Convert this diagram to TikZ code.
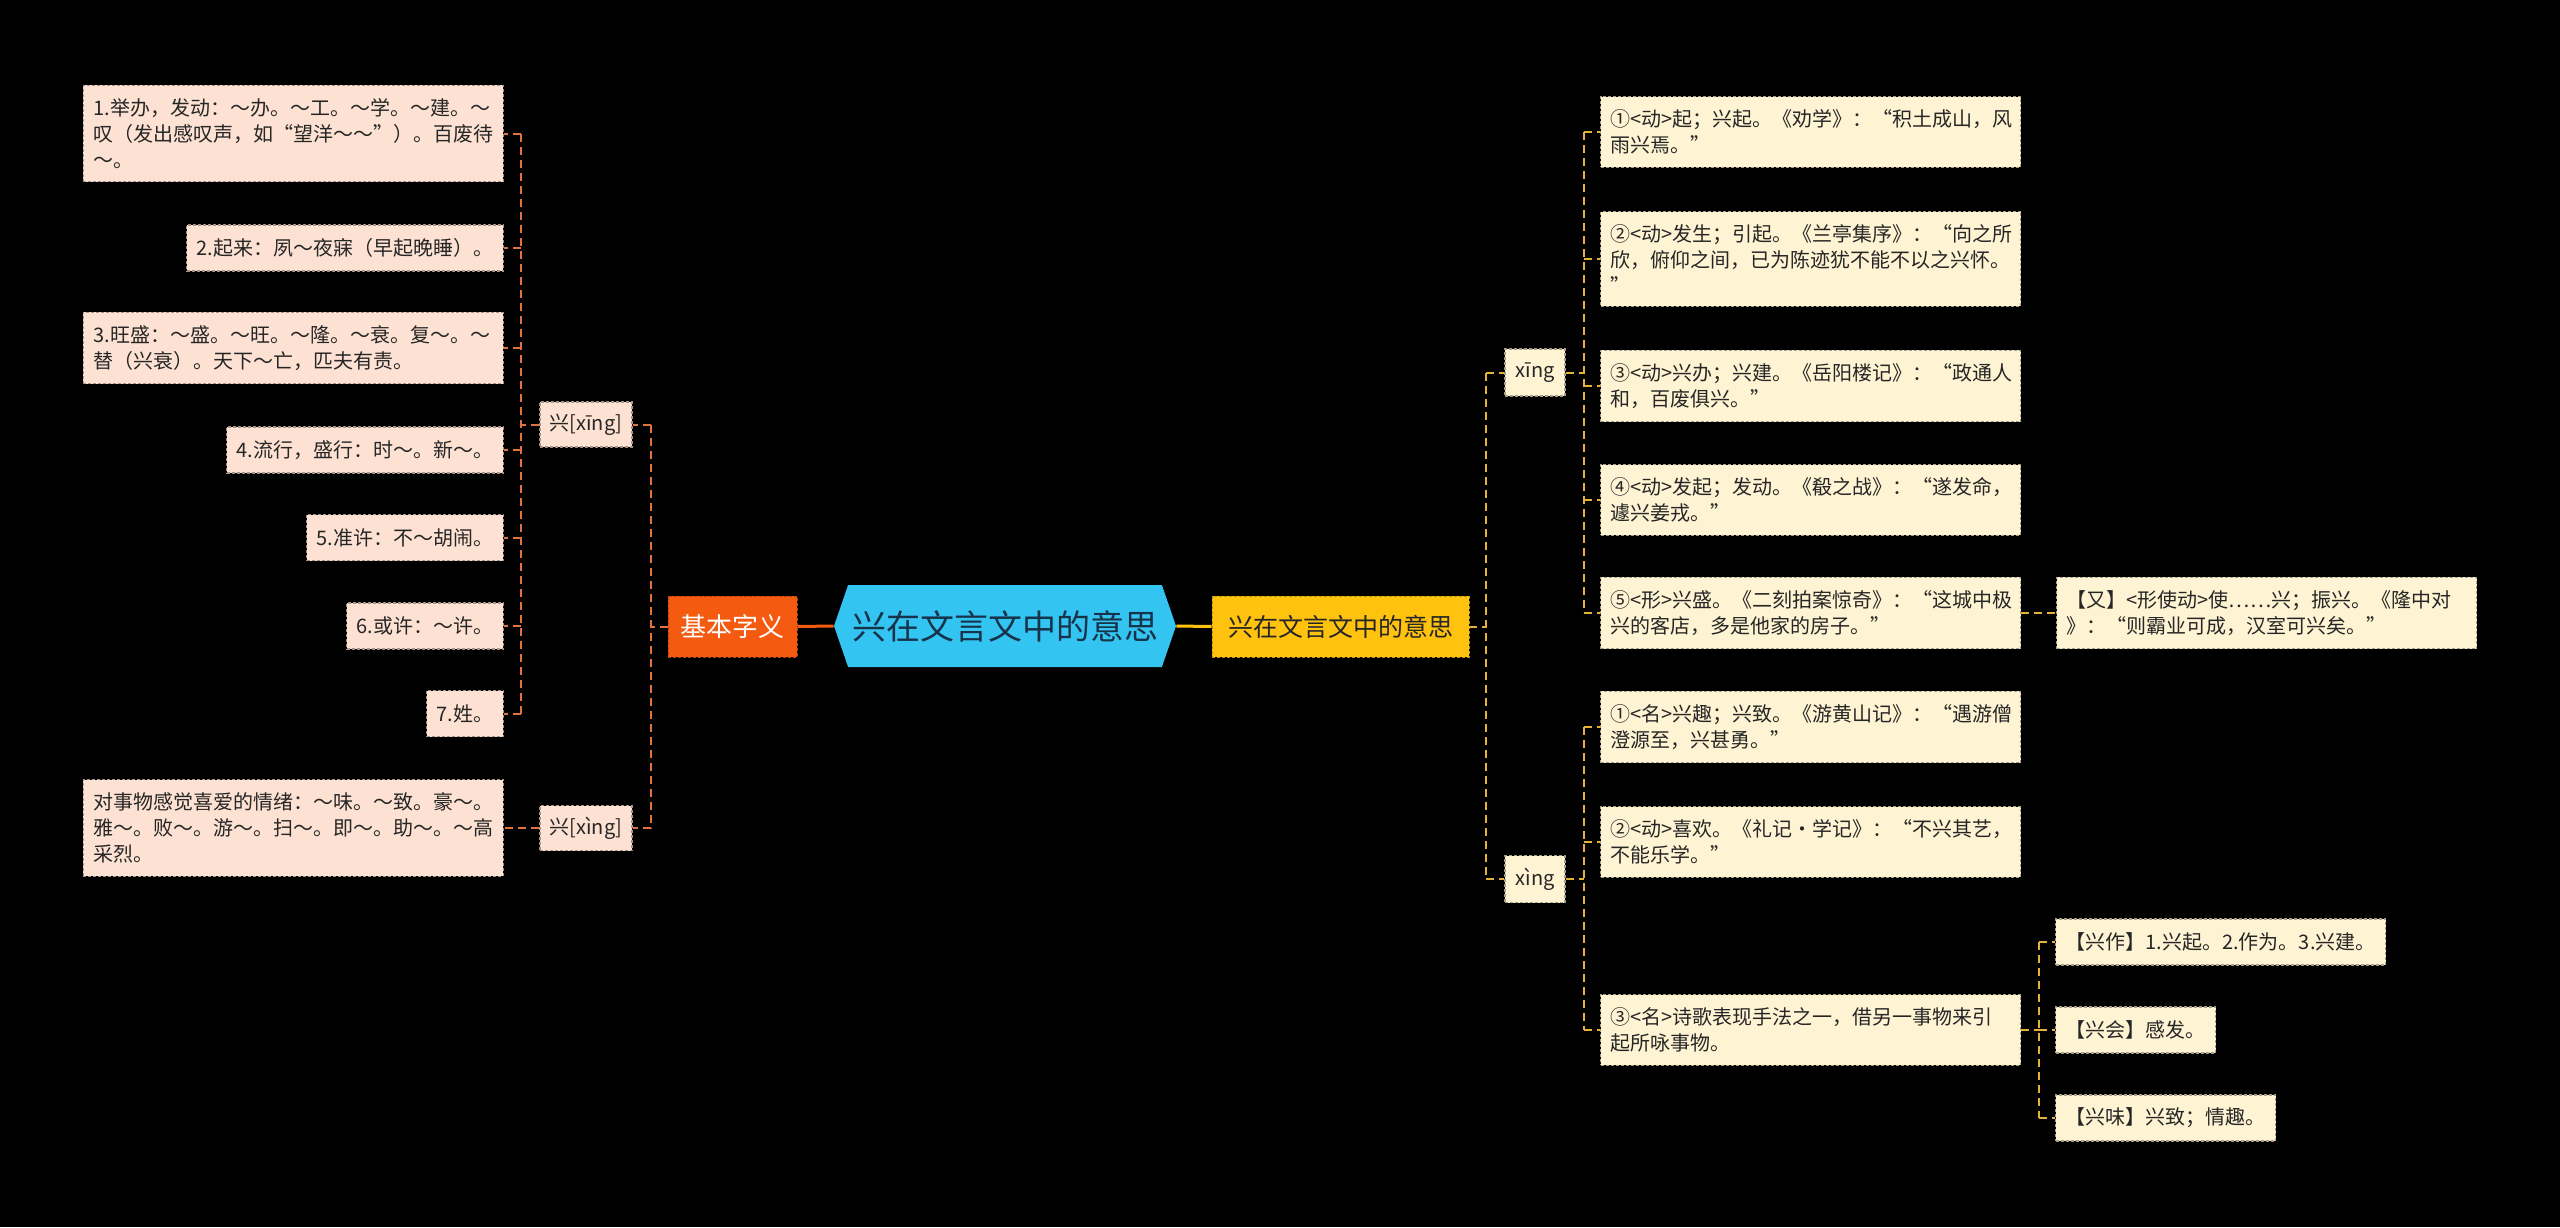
\documentclass[tikz,border=0pt]{standalone}
\usepackage{fontspec}
\newfontfamily\cjk{Noto Sans CJK SC}
\usetikzlibrary{shapes.symbols}
\definecolor{rootblue}{HTML}{33C4F2}
\definecolor{roottext}{HTML}{17334A}
\definecolor{baseorange}{HTML}{F45A10}
\definecolor{meanyellow}{HTML}{FFC20F}
\definecolor{peach}{HTML}{FDE2D3}
\definecolor{cream}{HTML}{FEF3D2}
\definecolor{lline}{HTML}{E0733F}
\definecolor{rline}{HTML}{E3B236}

\begin{document}
\begin{tikzpicture}[x=0.5pt,y=-0.5pt,
  box/.style={font=\cjk\fontsize{10pt}{13pt}\selectfont, text=black!85, align=left,
    inner xsep=5pt, inner ysep=6.5pt, minimum height=23pt,
    dash pattern=on 1.5pt off 1pt, line width=0.6pt},
  lbox/.style={box, fill=peach, draw=peach!65!black, anchor=east},
  rbox/.style={box, fill=cream, draw=cream!65!black, anchor=west},
  wide/.style={text width=200pt},
  tag/.style={anchor=center, inner sep=0pt},
  lc/.style={draw=lline, line width=1pt, dash pattern=on 4pt off 2.5pt},
  rc/.style={draw=rline, line width=1pt, dash pattern=on 4pt off 2.5pt}]
\fill[black] (0,0) rectangle (2560,1227);
\useasboundingbox (0,0) rectangle (2560,1227);

% centre and the two main branches
\node[signal, signal to=east and west, signal pointer angle=142, fill=rootblue,
  text=roottext, font=\cjk\fontsize{17pt}{20pt}\selectfont,
  minimum width=171pt, minimum height=41pt, inner sep=0pt] (root) at (1005,626) {兴在文言文中的意思};
\node[fill=baseorange, draw=baseorange!75!black, dash pattern=on 1.5pt off 1pt, text=white,
  font=\cjk\fontsize{13pt}{15pt}\selectfont, minimum width=64.5pt, minimum height=30.5pt,
  inner sep=0pt] (base) at (732.5,626.5) {基本字义};
\node[fill=meanyellow, draw=meanyellow!75!black, dash pattern=on 1.5pt off 1pt, text=black!85,
  font=\cjk\fontsize{12.5pt}{15pt}\selectfont, minimum width=128.5pt, minimum height=30.5pt,
  inner sep=0pt] (mean) at (1340.5,626.5) {兴在文言文中的意思};
\draw[baseorange, line width=1.5pt] (base.east) -- (root.west);
\draw[meanyellow, line width=1.5pt] (root.east) -- (mean.west);

% left side
\node[lbox, tag, minimum width=46pt, minimum height=22.5pt] (xingA) at (586,424.5) {兴[xīng]};
\node[lbox, tag, minimum width=46pt, minimum height=22.5pt] (xingB) at (586,828) {兴[xìng]};
\node[lbox, wide] (L1) at (504,133.5) {1.举办，发动：～办。～工。～学。～建。～\\叹（发出感叹声，如“望洋～～”）。百废待\\～。};
\node[lbox] (L2) at (504,248) {2.起来：夙～夜寐（早起晚睡）。};
\node[lbox, wide] (L3) at (504,348) {3.旺盛：～盛。～旺。～隆。～衰。复～。～\\替（兴衰）。天下～亡，匹夫有责。};
\node[lbox] (L4) at (504,450) {4.流行，盛行：时～。新～。};
\node[lbox] (L5) at (504,537.5) {5.准许：不～胡闹。};
\node[lbox] (L6) at (504,626) {6.或许：～许。};
\node[lbox] (L7) at (504,713.5) {7.姓。};
\node[lbox, wide] (L8) at (504,828) {对事物感觉喜爱的情绪：～味。～致。豪～。\\雅～。败～。游～。扫～。即～。助～。～高\\采烈。};

\draw[lc] (base.west) -- ++(-17,0) coordinate (kb);
\draw[lc] (kb |- xingA.east) -- (kb |- xingB.east);
\draw[lc] (kb |- xingA.east) -- (xingA.east); \draw[lc] (kb |- xingB.east) -- (xingB.east);
\draw[lc] (xingA.west) -- ++(-18,0) coordinate (ka);
\draw[lc] (ka |- L1.east) -- (ka |- L7.east);
\draw[lc] (ka |- L1.east) -- (L1.east); \draw[lc] (ka |- L2.east) -- (L2.east);
\draw[lc] (ka |- L3.east) -- (L3.east); \draw[lc] (ka |- L4.east) -- (L4.east);
\draw[lc] (ka |- L5.east) -- (L5.east); \draw[lc] (ka |- L6.east) -- (L6.east);
\draw[lc] (ka |- L7.east) -- (L7.east);
\draw[lc] (xingB.west) -- (L8.east);

% right side
\node[rbox, tag, minimum width=30pt, minimum height=23.5pt] (yinA) at (1535,372.5) {xīng};
\node[rbox, tag, minimum width=30pt, minimum height=23.5pt] (yinB) at (1535,879) {xìng};
\node[rbox, wide] (R1) at (1600,132) {①<动>起；兴起。《劝学》：“积土成山，风\\雨兴焉。”};
\node[rbox, wide] (R2) at (1600,259) {②<动>发生；引起。《兰亭集序》：“向之所\\欣，俯仰之间，已为陈迹犹不能不以之兴怀。\\”};
\node[rbox, wide] (R3) at (1600,386) {③<动>兴办；兴建。《岳阳楼记》：“政通人\\和，百废俱兴。”};
\node[rbox, wide] (R4) at (1600,500) {④<动>发起；发动。《殽之战》：“遂发命，\\遽兴姜戎。”};
\node[rbox, wide] (R5) at (1600,613) {⑤<形>兴盛。《二刻拍案惊奇》：“这城中极\\兴的客店，多是他家的房子。”};
\node[rbox, wide] (R6) at (2056,613) {【又】<形使动>使……兴；振兴。《隆中对\\》：“则霸业可成，汉室可兴矣。”};
\node[rbox, wide] (S1) at (1600,727) {①<名>兴趣；兴致。《游黄山记》：“遇游僧\\澄源至，兴甚勇。”};
\node[rbox, wide] (S2) at (1600,842) {②<动>喜欢。《礼记·学记》：“不兴其艺，\\不能乐学。”};
\node[rbox, wide] (S3) at (1600,1030) {③<名>诗歌表现手法之一，借另一事物来引\\起所咏事物。};
\node[rbox] (T1) at (2055,942) {【兴作】1.兴起。2.作为。3.兴建。};
\node[rbox] (T2) at (2055,1030) {【兴会】感发。};
\node[rbox] (T3) at (2055,1118) {【兴味】兴致；情趣。};

\draw[rc] (mean.east) -- ++(17,0) coordinate (kc);
\draw[rc] (kc |- yinA.west) -- (kc |- yinB.west);
\draw[rc] (kc |- yinA.west) -- (yinA.west); \draw[rc] (kc |- yinB.west) -- (yinB.west);
\draw[rc] (yinA.east) -- ++(18,0) coordinate (kd);
\draw[rc] (kd |- R1.west) -- (kd |- R5.west);
\draw[rc] (kd |- R1.west) -- (R1.west); \draw[rc] (kd |- R2.west) -- (R2.west);
\draw[rc] (kd |- R3.west) -- (R3.west); \draw[rc] (kd |- R4.west) -- (R4.west);
\draw[rc] (kd |- R5.west) -- (R5.west);
\draw[rc] (R5.east) -- (R6.west);
\draw[rc] (yinB.east) -- ++(18,0) coordinate (ke);
\draw[rc] (ke |- S1.west) -- (ke |- S3.west);
\draw[rc] (ke |- S1.west) -- (S1.west); \draw[rc] (ke |- S2.west) -- (S2.west);
\draw[rc] (ke |- S3.west) -- (S3.west);
\draw[rc] (S3.east) -- ++(18,0) coordinate (kf);
\draw[rc] (kf |- T1.west) -- (kf |- T3.west);
\draw[rc] (kf |- T1.west) -- (T1.west); \draw[rc] (kf |- T2.west) -- (T2.west);
\draw[rc] (kf |- T3.west) -- (T3.west);
\end{tikzpicture}
\end{document}
